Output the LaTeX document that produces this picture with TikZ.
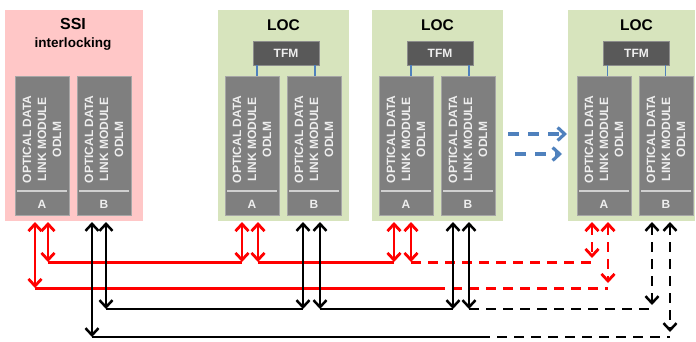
\documentclass[tikz,border=0pt]{standalone}
\usepackage{fontspec}
\setmainfont{Liberation Sans}
\usetikzlibrary{arrows.meta,calc}
\definecolor{ssipink}{HTML}{FFC7C7}
\definecolor{locgreen}{HTML}{D7E4BD}
\definecolor{modgray}{HTML}{7F7F7F}
\definecolor{modedge}{HTML}{A6A6A6}
\definecolor{tfmgray}{HTML}{595959}
\definecolor{tfmedge}{HTML}{8C8C8C}
\definecolor{linkblue}{HTML}{4F81BD}
\definecolor{odlmtext}{HTML}{EEEEEE}
\definecolor{divgray}{HTML}{D0D0D0}
\begin{document}
\begin{tikzpicture}[x=1pt,y=-1pt,
  cab/.style={inner sep=0pt, outer sep=0pt, minimum height=211pt, anchor=north west},
  ssibox/.style={cab, fill=ssipink},
  locbox/.style={cab, fill=locgreen},
  modbox/.style={draw=modedge, fill=modgray, line width=0.8pt, minimum width=54pt, minimum height=139pt, inner sep=0pt, outer sep=0pt, anchor=north west},
  tfmbox/.style={draw=tfmedge, fill=tfmgray, line width=0.8pt, minimum width=66pt, minimum height=24pt, inner sep=0pt, outer sep=0pt, text=odlmtext, font=\bfseries\fontsize{12}{13}\selectfont},
  odlm/.style={rotate=90, align=center, text=odlmtext, inner sep=0pt, font=\bfseries\fontsize{12}{15}\selectfont},
  lbl/.style={text=odlmtext, inner sep=0pt, font=\bfseries\fontsize{12}{14}\selectfont},
  divline/.style={draw=divgray, line width=1.2pt},
  title/.style={inner sep=0pt, font=\bfseries\fontsize{15.5}{18}\selectfont},
  tfmlink/.style={draw=linkblue, line width=1.8pt},
  >={Straight Barb[length=7pt,width=13pt]},
  rarr/.style={draw=red, line width=2.8pt, <->},
  rline/.style={draw=red, line width=3pt},
  karr/.style={draw=black, line width=2.5pt, <->},
  kline/.style={draw=black, line width=2.5pt},
  dashy/.style={dash pattern=on 10pt off 7pt},
  barr/.style={draw=linkblue, line width=3.2pt, dash pattern=on 11pt off 9pt, -{Straight Barb[length=7pt,width=13pt]}}
]
\useasboundingbox (0,0) rectangle (696,341);

% cabinets
\node[ssibox, minimum width=138pt] (ssi) at (5,10) {};
\node[locbox, minimum width=131pt] (loc1) at (218,10) {};
\node[locbox, minimum width=131pt] (loc2) at (372,10) {};
\node[locbox, minimum width=127pt] (loc3) at (568,10) {};

% titles
\node[title, font=\bfseries\fontsize{16}{18}\selectfont] (ssiT) at (73,24) {SSI};
\node[title, font=\bfseries\fontsize{13.5}{16}\selectfont] (ssiT2) at (73,44) {interlocking};
\node[title] (loc1T) at (283.5,25) {LOC};
\node[title] (loc2T) at (437.5,25) {LOC};
\node[title] (loc3T) at (636.5,25) {LOC};

% TFM
\node[tfmbox] (t1) at (286,53) {TFM};
\node[tfmbox] (t2) at (440,53) {TFM};
\node[tfmbox] (t3) at (636.5,53) {TFM};

% modules
\foreach \nm/\xx/\ll in {sA/15/A, sB/77/B, aA/225/A, aB/287/B, bA/379/A, bB/441/B, cA/577/A, cB/639/B}{
  \node[modbox] (\nm) at (\xx,76) {};
  \draw[divline] ($(\nm.south west)+(2,-24)$) -- ($(\nm.south east)+(-2,-24)$);
  \node[odlm] (\nm txt) at ($(\nm.center)+(0,-6)$) {OPTICAL DATA\\LINK MODULE\\ODLM};
  \node[lbl] (\nm lbl) at ($(\nm.south)+(0,-11)$) {\ll};
}

% TFM links
\foreach \t/\ma/\mb in {t1/aA/aB, t2/bA/bB, t3/cA/cB}{
  \coordinate (\t L) at ($(\t.south west)+(4,0)$);
  \coordinate (\t R) at ($(\t.south east)+(-4,0)$);
  \draw[tfmlink] (\t L) -- (\t L |- \ma.north);
  \draw[tfmlink] (\t R) -- (\t R |- \mb.north);
}

% blue dashed arrows
\coordinate (bl1s) at (508,134);
\coordinate (bl1e) at (567,134);
\coordinate (bl2s) at (515,154);
\coordinate (bl2e) at (562,154);
\draw[barr] (bl1s) -- (bl1e);
\draw[barr] (bl2s) -- (bl2e);

% connector end points
\coordinate (sa1) at (35,222);  \coordinate (sa2) at (48,222);
\coordinate (sb1) at (92,222);  \coordinate (sb2) at (106,222);
\coordinate (aa1) at (242,222); \coordinate (aa2) at (258,222);
\coordinate (ab1) at (303,222); \coordinate (ab2) at (320,222);
\coordinate (ba1) at (394,222); \coordinate (ba2) at (411,222);
\coordinate (bb1) at (453,222); \coordinate (bb2) at (469,222);
\coordinate (ca1) at (592,222); \coordinate (ca2) at (608,222);
\coordinate (cb1) at (652,222); \coordinate (cb2) at (670,222);
\coordinate (yA) at (0,262);
\coordinate (yB) at (0,288);
\coordinate (yC) at (0,309);
\coordinate (yD) at (0,337);
\coordinate (splitB) at (435,288);
\coordinate (splitD) at (480,337);

% red level A
\draw[rline] (sa2 |- yA) -- (aa1 |- yA);
\draw[rline] (aa2 |- yA) -- (ba1 |- yA);
\draw[rline, dashy] (ba2 |- yA) -- (ca1 |- yA);
% red level B
\draw[rline] (sa1 |- yB) -- (splitB);
\draw[rline, dashy] (splitB) -- (ca2 |- yB);
% black level C
\draw[kline] (sb2 |- yC) -- (ab1 |- yC);
\draw[kline] (ab2 |- yC) -- (bb1 |- yC);
\draw[kline, dashy] (bb2 |- yC) -- (cb1 |- yC);
% black level D
\draw[kline] (sb1 |- yD) -- (splitD);
\draw[kline, dashy] (splitD) -- (cb2 |- yD);

% vertical arrows
\draw[rarr] (sa1) -- (sa1 |- yB);
\draw[rarr] (sa2) -- (sa2 |- yA);
\draw[rarr] (aa1) -- (aa1 |- yA);
\draw[rarr] (aa2) -- (aa2 |- yA);
\draw[rarr] (ba1) -- (ba1 |- yA);
\draw[rarr] (ba2) -- (ba2 |- yA);
\draw[rarr, dashy] (ca1) -- ($(ca1 |- yA)+(0,-4)$);
\draw[rarr, dashy] (ca2) -- ($(ca2 |- yB)+(0,-5)$);
\draw[karr] (sb1) -- (sb1 |- yD);
\draw[karr] (sb2) -- (sb2 |- yC);
\draw[karr] (ab1) -- (ab1 |- yC);
\draw[karr] (ab2) -- (ab2 |- yC);
\draw[karr] (bb1) -- (bb1 |- yC);
\draw[karr] (bb2) -- (bb2 |- yC);
\draw[karr, dashy] (cb1) -- ($(cb1 |- yC)+(0,-4)$);
\draw[karr, dashy] (cb2) -- ($(cb2 |- yD)+(0,-5)$);
\end{tikzpicture}
\end{document}
